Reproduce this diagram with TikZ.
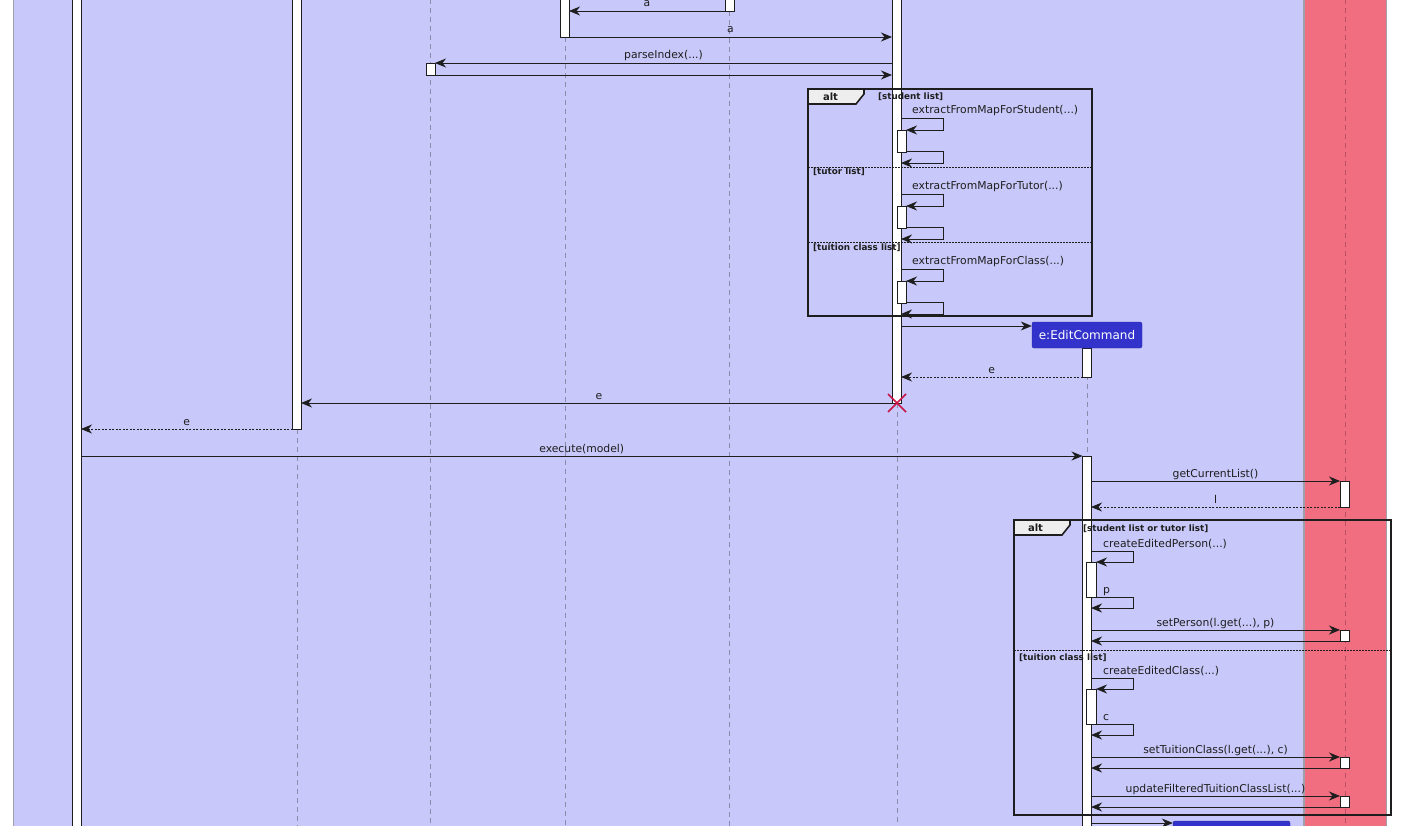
\documentclass[tikz,border=0pt]{standalone}
\usepackage{fontspec}
\setmainfont{DejaVu Sans}
\usetikzlibrary{arrows.meta}

\definecolor{boxblue}{RGB}{200,200,250}
\definecolor{boxred}{RGB}{240,110,128}
\definecolor{objblue}{RGB}{51,51,204}
\definecolor{lifegray}{RGB}{140,140,170}
\definecolor{lifered}{RGB}{185,80,100}
\definecolor{edgegray}{RGB}{160,160,172}
\definecolor{crossred}{RGB}{200,20,70}
\definecolor{tabgray}{RGB}{238,238,238}
\definecolor{ink}{RGB}{30,30,30}

\tikzset{
  msg/.style={draw=ink,line width=0.9pt,-{Stealth[length=11pt,width=9pt,inset=3.5pt]}},
  ret/.style={msg,dash pattern=on 2pt off 1.5pt},
  bar/.style={draw=ink,fill=white,line width=0.9pt},
  life/.style={draw=lifegray,line width=1pt,dash pattern=on 5pt off 4pt},
  lbl/.style={anchor=base,yshift=4pt,inner sep=0pt,text=ink,font=\fontsize{10.8}{12}\selectfont},
  guard/.style={anchor=base west,inner sep=0pt,text=ink,font=\fontsize{8.8}{10}\selectfont\bfseries},
  frame/.style={draw=ink,line width=1.6pt},
  divider/.style={draw=ink,line width=0.8pt,dash pattern=on 1.5pt off 1.5pt},
  obj/.style={fill=objblue,draw=objblue!80!black,rounded corners=2pt,text=white,
    font=\fontsize{12}{14}\selectfont,minimum height=26pt,inner sep=0pt}
}

\begin{document}
\begin{tikzpicture}[x=1pt,y=-1pt]
\useasboundingbox (0,0) rectangle (1423,826);
\clip (0,0) rectangle (1423,826);
% boxes
\draw[edgegray,line width=1pt,fill=boxblue] (13.5,-10) rectangle (1303.5,836);
\draw[edgegray,line width=1pt,fill=boxred] (1304.5,-10) rectangle (1386,836);

% lifeline x positions
\coordinate (logicR) at (81,0);
\coordinate (parserL) at (292.5,0);
\coordinate (parserR) at (301,0);
\coordinate (utilR) at (435,0);
\coordinate (tokR) at (569,0);
\coordinate (mapL) at (725,0);
\coordinate (epL) at (892,0);
\coordinate (epR) at (901,0);
\coordinate (epX) at (897,0);
\coordinate (cmdL) at (1082.5,0);
\coordinate (cmdR) at (1091,0);
\coordinate (modelL) at (1340,0);

% lifelines
\draw[life] (297,429) -- (297,836);
\draw[life] (430,-10) -- (430,836);
\draw[life] (565,37) -- (565,836);
\draw[life] (729,11) -- (729,836);
\draw[life] (897,403) -- (897,836);
\draw[life] (1087,348) -- (1087,456);
\draw[life,draw=lifered] (1345,-10) -- (1345,836);

% activations
\draw[bar] (72.5,-10) rectangle (81,836);
\draw[bar] (292.5,-10) rectangle (301,429);
\draw[bar] (560.5,-10) rectangle (569,37);
\draw[bar] (725,-10) rectangle (734,11);
\draw[bar] (892,-10) rectangle (901,403);
\draw[bar] (426,63) rectangle (435,75);
\draw[bar] (1082.5,348) rectangle (1091,377);
\draw[bar] (1082.5,456) rectangle (1091,836);
\draw[bar] (1340,481) rectangle (1349,507);

% parsing
\draw[msg] (mapL |- 0,11) -- (tokR |- 0,11) node[lbl,midway]{a};
\draw[msg] (tokR |- 0,37) -- (epL |- 0,37) node[lbl,midway]{a};
\draw[msg] (epL |- 0,63) -- (utilR |- 0,63) node[lbl,midway]{parseIndex(...)};
\draw[msg] (utilR |- 0,75) -- (epL |- 0,75);

% first alt
\draw[frame] (808,89) rectangle (1092,316);
\draw[frame,fill=tabgray] (808,89) -- (864,89) -- (864,94) -- (856,104) -- (808,104) -- cycle;
\node[inner sep=0pt,text=ink,font=\fontsize{10}{12}\selectfont\bfseries] (alt1) at (830.5,97) {alt};
\draw[divider] (808,167) -- (1092,167);
\draw[divider] (808,242) -- (1092,242);
\foreach \b/\what in {118/Student,194/Tutor,269/Class}{
  \draw[bar] (897,\b+12) rectangle (906,\b+34);
  \draw[msg] (epR |- 0,\b) -- (943,\b) -- (943,\b+12) -- (906,\b+12);
  \draw[msg] (906,\b+33) -- (943,\b+33) -- (943,\b+45) -- (epR |- 0,\b+45);
  \node[lbl,anchor=base west] at (912,\b) {extractFromMapFor\what(...)};
}
\node[guard] (g1) at (878,100) {[student list]};
\node[guard] (g2) at (813,175) {[tutor list]};
\node[guard] (g3) at (813,251) {[tuition class list]};

% command creation
\node[obj,minimum width=110pt] (cmd) at (1087,335) {e:EditCommand};
\draw[msg] (epR |- 0,326) -- (cmd.west |- 0,326);
\draw[ret] (cmdL |- 0,377) -- (epR |- 0,377) node[lbl,midway]{e};
\draw[msg] (epX |- 0,403) -- (parserR |- 0,403) node[lbl,midway]{e};
\draw[crossred,line width=1.5pt] (888,394) -- (906,412) (888,412) -- (906,394);
\draw[ret] (parserL |- 0,429) -- (logicR |- 0,429) node[lbl,midway]{e};

% execution
\draw[msg] (logicR |- 0,456) -- (cmdL |- 0,456) node[lbl,midway]{execute(model)};
\draw[msg] (cmdR |- 0,481) -- (modelL |- 0,481) node[lbl,midway]{getCurrentList()};
\draw[ret] (modelL |- 0,507) -- (cmdR |- 0,507) node[lbl,midway]{l};

% second alt
\draw[frame] (1014,520) rectangle (1391,815);
\draw[frame,fill=tabgray] (1014,520) -- (1070,520) -- (1070,525) -- (1062,535) -- (1014,535) -- cycle;
\node[inner sep=0pt,text=ink,font=\fontsize{10}{12}\selectfont\bfseries] (alt2) at (1035.5,528) {alt};
\draw[divider] (1014,650) -- (1391,650);
\foreach \b/\what/\res in {551/Person/p,678/Class/c}{
  \draw[bar] (1086,\b+11) rectangle (1096,\b+46);
  \draw[msg] (cmdR |- 0,\b) -- (1133,\b) -- (1133,\b+11) -- (1096,\b+11);
  \draw[msg] (1096,\b+46) -- (1133,\b+46) -- (1133,\b+57) -- (cmdR |- 0,\b+57);
  \node[lbl,anchor=base west] at (1103,\b) {createEdited\what(...)};
  \node[lbl,anchor=base west] at (1103,\b+46) {\res};
}
\foreach \y/\txt in {630/{setPerson(l.get(...), p)},757/{setTuitionClass(l.get(...), c)},796/{updateFilteredTuitionClassList(...)}}{
  \draw[bar] (1340,\y) rectangle (1349,\y+11);
  \draw[msg] (cmdR |- 0,\y) -- (modelL |- 0,\y) node[lbl,midway]{\txt};
  \draw[msg] (modelL |- 0,\y+11) -- (cmdR |- 0,\y+11);
}
\node[guard] (g4) at (1083,531) {[student list or tutor list]};
\node[guard] (g5) at (1019,660) {[tuition class list]};

% next object
\node[obj,minimum width=117pt] (next) at (1231.5,834) {};
\draw[msg] (cmdR |- 0,823) -- (next.west |- 0,823);
\end{tikzpicture}
\end{document}
